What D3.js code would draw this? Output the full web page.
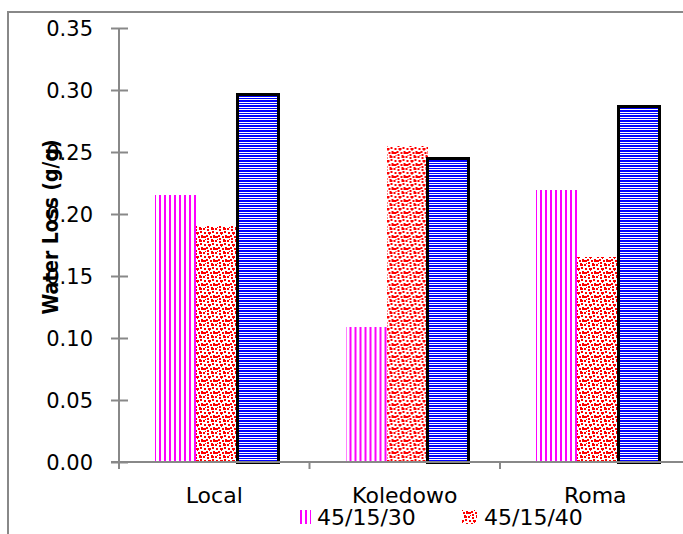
<!DOCTYPE html>
<html><head><meta charset="utf-8">
<script src="https://cdn.jsdelivr.net/npm/d3@7"></script>
<style>html,body{margin:0;padding:0;background:#fff;overflow:hidden}</style>
</head><body>
<script>
const categories = ["Local", "Koledowo", "Roma"];
const seriesNames = ["45/15/30", "45/15/40", "45/15/50"];
const s30 = [0.215, 0.109, 0.219];
const s40 = [0.190, 0.255, 0.165];
const s50 = [0.296, 0.245, 0.287];
const legendLabels = ["45/15/30", "45/15/40"];
const yTicks = [0, 0.05, 0.10, 0.15, 0.20, 0.25, 0.30, 0.35];
const yTitle = "Water Loss (g/g)";

const W = 683, H = 534;
const svg = d3.select("body").append("svg").attr("width", W).attr("height", H);
const defs = svg.append("defs");

// patterns
const pM = defs.append("pattern").attr("id","pm").attr("patternUnits","userSpaceOnUse").attr("width",5).attr("height",10);
pM.append("rect").attr("x",0).attr("y",0).attr("width",2).attr("height",10).attr("fill","#ff00ff");
const pB = defs.append("pattern").attr("id","pb").attr("patternUnits","userSpaceOnUse").attr("width",10).attr("height",5);
pB.append("rect").attr("width",10).attr("height",5).attr("fill","#fff");
pB.append("rect").attr("x",0).attr("y",0).attr("width",10).attr("height",2).attr("fill","#0000ff");
pB.append("rect").attr("x",0).attr("y",3).attr("width",10).attr("height",1).attr("fill","#0000ff");
const pR = defs.append("pattern").attr("id","pr").attr("patternUnits","userSpaceOnUse").attr("width",12).attr("height",12);
pR.append("rect").attr("width",12).attr("height",12).attr("fill","#fff");
[[0,0,2,2],[4,1,2,2],[8,0,3,2],[1,4,2,2],[5,4,3,2],[9,3,2,2],[0,8,3,2],[3,7,2,2],[7,8,2,2],[10,7,2,3],[4,10,2,2],[8,11,2,1],[6,6,1,1],[2,11,1,1]]
  .forEach(r => pR.append("rect").attr("x",r[0]).attr("y",r[1]).attr("width",r[2]).attr("height",r[3]).attr("fill","#ff0000"));
const fills = ["url(#pm)", "url(#pr)", "url(#pb)"];

// outer frame
svg.append("path").attr("d","M8,534V12H683").attr("fill","none").attr("stroke","#888").attr("stroke-width",2);

const y = d3.scaleLinear().domain([0, 0.35]).range([462, 28]);
const x0 = d3.scaleBand().domain(categories).range([119, 119 + 3*190.5]).padding(0);
const x1 = d3.scaleBand().domain(seriesNames).range([36, 36 + 123]).padding(0);

const data = categories.map((c,i)=>({cat:c, vals:[s30[i], s40[i], s50[i]]}));

const g = svg.append("g");
const groups = g.selectAll("g.grp").data(data).join("g").attr("class","grp")
  .attr("transform", d => `translate(${x0(d.cat)},0)`);
groups.selectAll("rect").data(d => d.vals.map((v,j)=>({v, s:seriesNames[j], j})))
  .join("rect")
  .attr("x", d => x1(d.s))
  .attr("y", d => y(d.v))
  .attr("width", x1.bandwidth())
  .attr("height", d => y(0) - y(d.v))
  .attr("fill", d => fills[d.j])
  .attr("stroke", d => d.j === 2 ? "#000" : "none")
  .attr("stroke-width", 3)
  .attr("shape-rendering","crispEdges");

// y axis
const yAxis = d3.axisLeft(y).tickValues(yTicks).tickFormat(d3.format(".2f")).tickSize(8).tickPadding(18);
const ya = svg.append("g").attr("transform","translate(119,0)").call(yAxis);
ya.select(".domain").attr("stroke","#888").attr("stroke-width",2).attr("d","M0,28V469");
ya.selectAll(".tick line").attr("stroke","#888").attr("stroke-width",2).attr("x1",9).attr("x2",-8);
ya.selectAll(".tick text").attr("font-family","DejaVu Sans").attr("font-size",21).attr("fill","#000").attr("dy","0.36em");

// x axis
const xAxis = d3.axisBottom(x0).tickSize(0).tickPadding(0);
const xa = svg.append("g").attr("transform","translate(0,462)").call(xAxis);
xa.select(".domain").attr("stroke","#888").attr("stroke-width",2).attr("d","M111,0H700");
xa.selectAll(".tick text").attr("font-family","DejaVu Sans").attr("font-size",22).attr("fill","#000").attr("y",41).attr("dy",0);
// category boundary ticks
const bounds = categories.map(c => x0(c)).concat([x0(categories[2]) + x0.bandwidth()]);
xa.selectAll("line.bt").data(bounds).join("line").attr("class","bt")
  .attr("x1", d=>d).attr("x2", d=>d).attr("y1",0).attr("y2",7).attr("stroke","#888").attr("stroke-width",2);

// y title
svg.append("text").attr("transform","translate(58,227) rotate(-90)")
  .attr("text-anchor","middle").attr("font-family","DejaVu Sans Condensed, DejaVu Sans").attr("font-weight","bold")
  .attr("font-size",21).attr("textLength",175).attr("lengthAdjust","spacingAndGlyphs").attr("fill","#000").text(yTitle);

// legend
const legX = [299, 462];
const lg = svg.append("g");
legendLabels.forEach((lab,i)=>{
  lg.append("rect").attr("x",legX[i]).attr("y",510).attr("width", i===0?12:15).attr("height",14)
    .attr("fill", fills[i]).attr("shape-rendering","crispEdges");
  lg.append("text").attr("x", legX[i] + (i===0?18:22)).attr("y",525).attr("font-family","DejaVu Sans")
    .attr("font-size",22).attr("fill","#000").text(lab);
});
</script>
</body></html>
